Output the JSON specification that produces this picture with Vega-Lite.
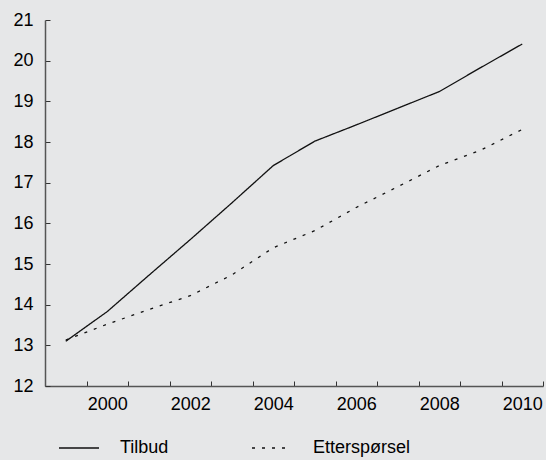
{
  "$schema": "https://vega.github.io/schema/vega-lite/v6.json",
  "autosize": {"type": "none"},
  "padding": {"left": 45, "top": 20, "right": 3, "bottom": 74},
  "width": 498,
  "height": 366,
  "background": "#e6e7e8",
  "config": {
    "view": {"stroke": null},
    "font": "Liberation Sans",
    "axis": {"domainColor": "#555555", "domainWidth": 1.5, "tickColor": "#333333", "tickWidth": 1, "labelColor": "#000000", "labelFontSize": 18, "labelFont": "Liberation Sans", "grid": false, "title": null}
  },
  "data": {
    "values": [
      {"year": 1999, "series": "Tilbud", "value": 13.1},
      {"year": 2000, "series": "Tilbud", "value": 13.83},
      {"year": 2001, "series": "Tilbud", "value": 14.72},
      {"year": 2002, "series": "Tilbud", "value": 15.6},
      {"year": 2003, "series": "Tilbud", "value": 16.5},
      {"year": 2004, "series": "Tilbud", "value": 17.42},
      {"year": 2005, "series": "Tilbud", "value": 18.02},
      {"year": 2006, "series": "Tilbud", "value": 18.42},
      {"year": 2007, "series": "Tilbud", "value": 18.83},
      {"year": 2008, "series": "Tilbud", "value": 19.24},
      {"year": 2009, "series": "Tilbud", "value": 19.83},
      {"year": 2010, "series": "Tilbud", "value": 20.41},
      {"year": 1999, "series": "Etterspørsel", "value": 13.13},
      {"year": 2000, "series": "Etterspørsel", "value": 13.52},
      {"year": 2001, "series": "Etterspørsel", "value": 13.88},
      {"year": 2002, "series": "Etterspørsel", "value": 14.22},
      {"year": 2003, "series": "Etterspørsel", "value": 14.73},
      {"year": 2004, "series": "Etterspørsel", "value": 15.4},
      {"year": 2005, "series": "Etterspørsel", "value": 15.82},
      {"year": 2006, "series": "Etterspørsel", "value": 16.39},
      {"year": 2007, "series": "Etterspørsel", "value": 16.9},
      {"year": 2008, "series": "Etterspørsel", "value": 17.42},
      {"year": 2009, "series": "Etterspørsel", "value": 17.8},
      {"year": 2010, "series": "Etterspørsel", "value": 18.31}
    ]
  },
  "mark": {"type": "line", "color": "#111111", "strokeWidth": 1.3},
  "encoding": {
    "x": {
      "field": "year", "type": "ordinal", "bandPosition": 0.5,
      "scale": {"type": "band", "paddingInner": 0, "paddingOuter": 0},
      "axis": {"labelAngle": 0, "tickBand": "extent", "tickSize": -5, "labelPadding": 14, "labelExpr": "datum.value % 2 == 0 ? datum.label : ''"}
    },
    "y": {
      "field": "value", "type": "quantitative",
      "scale": {"domain": [12, 21], "nice": false, "zero": false},
      "axis": {"values": [12, 13, 14, 15, 16, 17, 18, 19, 20, 21], "tickSize": -5, "labelPadding": 17}
    },
    "strokeDash": {
      "field": "series", "type": "nominal",
      "scale": {"domain": ["Tilbud", "Etterspørsel"], "range": [[1, 0], [3, 7]]},
      "legend": {
        "orient": "none", "legendX": 13, "legendY": 407, "direction": "horizontal", "title": null,
        "symbolType": "stroke", "symbolSize": 1600, "symbolStrokeColor": "#111111", "symbolStrokeWidth": 1.3,
        "labelFontSize": 18, "labelFont": "Liberation Sans", "labelColor": "#000000", "labelOffset": 20, "columnPadding": 80
      }
    }
  }
}
